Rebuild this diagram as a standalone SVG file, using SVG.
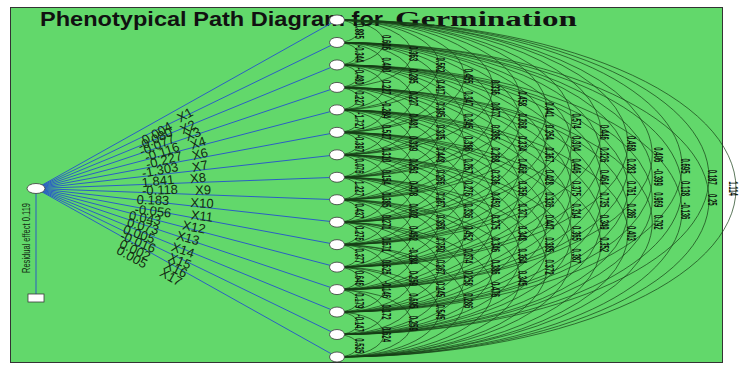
<svg xmlns="http://www.w3.org/2000/svg" width="740" height="366" viewBox="0 0 740 366">
<style>
.arc{fill:none;stroke:#163e16;stroke-width:0.7}
.ln{stroke:#2b5fc4;stroke-width:1;fill:none}
.nd{fill:#fff;stroke:#3a3a3a;stroke-width:0.8}
.cv{font-family:"Liberation Sans",Arial,sans-serif;font-size:12px;font-weight:bold;fill:#0c160c;text-anchor:middle;dominant-baseline:central}
.pl{font-family:"Liberation Sans",Arial,sans-serif;font-size:13px;fill:#122a12;text-anchor:middle;dominant-baseline:central}
</style>
<rect x="0" y="0" width="740" height="366" fill="#fff"/>
<rect x="10.5" y="7.5" width="712" height="355" fill="#62d86b" stroke="#333" stroke-width="1"/>
<text x="40" y="25.5" font-family="Liberation Sans,Arial,sans-serif" font-weight="bold" font-size="21" textLength="343" lengthAdjust="spacingAndGlyphs" fill="#111">Phenotypical Path Diagram for</text>
<text x="395" y="25.5" font-family="Liberation Serif,Times New Roman,serif" font-weight="bold" font-size="22" textLength="182" lengthAdjust="spacingAndGlyphs" fill="#111">Germination</text>
<g id="connectors">
<g id="paths">
<path class="ln" d="M36 188.5L337 20M36 188.5L337 42.47M36 188.5L337 64.93M36 188.5L337 87.4M36 188.5L337 109.86M36 188.5L337 132.33M36 188.5L337 154.8M36 188.5L337 177.26M36 188.5L337 199.73M36 188.5L337 222.19M36 188.5L337 244.66M36 188.5L337 267.13M36 188.5L337 289.59M36 188.5L337 312.06M36 188.5L337 334.52M36 188.5L337 357"/>
<path class="ln" d="M36 193V294"/>
</g>
<g id="arcs">
<path class="arc" d="M337 20a21 11.23 0 0 1 0 22.47a21 11.23 0 0 1 0 22.47a21 11.23 0 0 1 0 22.47a21 11.23 0 0 1 0 22.47a21 11.23 0 0 1 0 22.47a21 11.23 0 0 1 0 22.47a21 11.23 0 0 1 0 22.47a21 11.23 0 0 1 0 22.47a21 11.23 0 0 1 0 22.47a21 11.23 0 0 1 0 22.47a21 11.23 0 0 1 0 22.47a21 11.23 0 0 1 0 22.47a21 11.23 0 0 1 0 22.47a21 11.23 0 0 1 0 22.47a21 11.23 0 0 1 0 22.47"/>
<path class="arc" d="M337 20a48 22.47 0 0 1 0 44.93m0-22.47a48 22.47 0 0 1 0 44.93m0-22.47a48 22.47 0 0 1 0 44.93m0-22.47a48 22.47 0 0 1 0 44.93m0-22.47a48 22.47 0 0 1 0 44.93m0-22.47a48 22.47 0 0 1 0 44.93m0-22.47a48 22.47 0 0 1 0 44.93m0-22.47a48 22.47 0 0 1 0 44.93m0-22.47a48 22.47 0 0 1 0 44.93m0-22.47a48 22.47 0 0 1 0 44.93m0-22.47a48 22.47 0 0 1 0 44.93m0-22.47a48 22.47 0 0 1 0 44.93m0-22.47a48 22.47 0 0 1 0 44.93m0-22.47a48 22.47 0 0 1 0 44.93"/>
<path class="arc" d="M337 20a75 33.7 0 0 1 0 67.4m0-44.93a75 33.7 0 0 1 0 67.4m0-44.93a75 33.7 0 0 1 0 67.4m0-44.93a75 33.7 0 0 1 0 67.4m0-44.93a75 33.7 0 0 1 0 67.4m0-44.93a75 33.7 0 0 1 0 67.4m0-44.93a75 33.7 0 0 1 0 67.4m0-44.93a75 33.7 0 0 1 0 67.4m0-44.93a75 33.7 0 0 1 0 67.4m0-44.93a75 33.7 0 0 1 0 67.4m0-44.93a75 33.7 0 0 1 0 67.4m0-44.93a75 33.7 0 0 1 0 67.4m0-44.93a75 33.7 0 0 1 0 67.4"/>
<path class="arc" d="M337 20a102 44.93 0 0 1 0 89.86m0-67.4a102 44.93 0 0 1 0 89.86m0-67.4a102 44.93 0 0 1 0 89.86m0-67.4a102 44.93 0 0 1 0 89.86m0-67.4a102 44.93 0 0 1 0 89.86m0-67.4a102 44.93 0 0 1 0 89.86m0-67.4a102 44.93 0 0 1 0 89.86m0-67.4a102 44.93 0 0 1 0 89.86m0-67.4a102 44.93 0 0 1 0 89.86m0-67.4a102 44.93 0 0 1 0 89.86m0-67.4a102 44.93 0 0 1 0 89.86m0-67.4a102 44.93 0 0 1 0 89.86"/>
<path class="arc" d="M337 20a129 56.17 0 0 1 0 112.33m0-89.86a129 56.17 0 0 1 0 112.33m0-89.86a129 56.17 0 0 1 0 112.33m0-89.86a129 56.17 0 0 1 0 112.33m0-89.86a129 56.17 0 0 1 0 112.33m0-89.86a129 56.17 0 0 1 0 112.33m0-89.86a129 56.17 0 0 1 0 112.33m0-89.86a129 56.17 0 0 1 0 112.33m0-89.86a129 56.17 0 0 1 0 112.33m0-89.86a129 56.17 0 0 1 0 112.33m0-89.86a129 56.17 0 0 1 0 112.33"/>
<path class="arc" d="M337 20a156 67.4 0 0 1 0 134.8m0-112.33a156 67.4 0 0 1 0 134.8m0-112.33a156 67.4 0 0 1 0 134.8m0-112.33a156 67.4 0 0 1 0 134.8m0-112.33a156 67.4 0 0 1 0 134.8m0-112.33a156 67.4 0 0 1 0 134.8m0-112.33a156 67.4 0 0 1 0 134.8m0-112.33a156 67.4 0 0 1 0 134.8m0-112.33a156 67.4 0 0 1 0 134.8m0-112.33a156 67.4 0 0 1 0 134.8"/>
<path class="arc" d="M337 20a183 78.63 0 0 1 0 157.26m0-134.8a183 78.63 0 0 1 0 157.26m0-134.8a183 78.63 0 0 1 0 157.26m0-134.8a183 78.63 0 0 1 0 157.26m0-134.8a183 78.63 0 0 1 0 157.26m0-134.8a183 78.63 0 0 1 0 157.26m0-134.8a183 78.63 0 0 1 0 157.26m0-134.8a183 78.63 0 0 1 0 157.26m0-134.8a183 78.63 0 0 1 0 157.26"/>
<path class="arc" d="M337 20a210 89.86 0 0 1 0 179.73m0-157.26a210 89.86 0 0 1 0 179.73m0-157.26a210 89.86 0 0 1 0 179.73m0-157.26a210 89.86 0 0 1 0 179.73m0-157.26a210 89.86 0 0 1 0 179.73m0-157.26a210 89.86 0 0 1 0 179.73m0-157.26a210 89.86 0 0 1 0 179.73m0-157.26a210 89.86 0 0 1 0 179.73"/>
<path class="arc" d="M337 20a237 101.1 0 0 1 0 202.19m0-179.73a237 101.1 0 0 1 0 202.19m0-179.73a237 101.1 0 0 1 0 202.19m0-179.73a237 101.1 0 0 1 0 202.19m0-179.73a237 101.1 0 0 1 0 202.19m0-179.73a237 101.1 0 0 1 0 202.19m0-179.73a237 101.1 0 0 1 0 202.19"/>
<path class="arc" d="M337 20a264 112.33 0 0 1 0 224.66m0-202.19a264 112.33 0 0 1 0 224.66m0-202.19a264 112.33 0 0 1 0 224.66m0-202.19a264 112.33 0 0 1 0 224.66m0-202.19a264 112.33 0 0 1 0 224.66m0-202.19a264 112.33 0 0 1 0 224.66"/>
<path class="arc" d="M337 20a291 123.56 0 0 1 0 247.13m0-224.66a291 123.56 0 0 1 0 247.13m0-224.66a291 123.56 0 0 1 0 247.13m0-224.66a291 123.56 0 0 1 0 247.13m0-224.66a291 123.56 0 0 1 0 247.13"/>
<path class="arc" d="M337 20a318 134.8 0 0 1 0 269.59m0-247.13a318 134.8 0 0 1 0 269.59m0-247.13a318 134.8 0 0 1 0 269.59m0-247.13a318 134.8 0 0 1 0 269.59"/>
<path class="arc" d="M337 20a345 146.03 0 0 1 0 292.06m0-269.59a345 146.03 0 0 1 0 292.06m0-269.59a345 146.03 0 0 1 0 292.06"/>
<path class="arc" d="M337 20a372 157.26 0 0 1 0 314.52m0-292.06a372 157.26 0 0 1 0 314.52"/>
<path class="arc" d="M337 20a399 168.5 0 0 1 0 337"/>
</g>
</g>
<g id="corr-labels">
<g class="cv" transform="translate(359.2 31.23) rotate(90) scale(0.5 1)"><text x="0">0.895</text><text x="44.93">-0.344</text><text x="89.86">-0.480</text><text x="134.8">0.227</text><text x="179.73">-1.727</text><text x="224.66">-0.397</text><text x="269.59">0.076</text><text x="314.52">1.227</text><text x="359.46">0.437</text><text x="404.39">0.276</text><text x="449.32">0.377</text><text x="494.25">0.646</text><text x="539.18">0.179</text><text x="584.12">-0.147</text><text x="629.05">0.535</text></g>
<g class="cv" transform="translate(386.4 42.47) rotate(90) scale(0.5 1)"><text x="0">0.606</text><text x="44.93">0.400</text><text x="89.86">0.227</text><text x="134.8">-0.284</text><text x="179.73">0.527</text><text x="224.66">0.310</text><text x="269.59">0.154</text><text x="314.52">0.385</text><text x="359.46">0.271</text><text x="404.39">0.671</text><text x="449.32">0.625</text><text x="494.25">-0.146</text><text x="539.18">0.172</text><text x="584.12">0.624</text></g>
<g class="cv" transform="translate(413.6 53.7) rotate(90) scale(0.5 1)"><text x="0">0.363</text><text x="44.93">0.285</text><text x="89.86">0.227</text><text x="134.8">0.481</text><text x="179.73">0.339</text><text x="224.66">0.253</text><text x="269.59">0.478</text><text x="314.52">0.302</text><text x="359.46">0.462</text><text x="404.39">-0.184</text><text x="449.32">0.259</text><text x="494.25">0.695</text><text x="539.18">0.259</text></g>
<g class="cv" transform="translate(440.8 64.93) rotate(90) scale(0.5 1)"><text x="0">0.562</text><text x="44.93">0.417</text><text x="89.86">0.395</text><text x="134.8">0.335</text><text x="179.73">0.448</text><text x="224.66">0.256</text><text x="269.59">0.267</text><text x="314.52">0.358</text><text x="359.46">0.750</text><text x="404.39">0.267</text><text x="449.32">0.245</text><text x="494.25">0.545</text></g>
<g class="cv" transform="translate(468 76.17) rotate(90) scale(0.5 1)"><text x="0">0.455</text><text x="44.93">0.347</text><text x="89.86">0.345</text><text x="134.8">0.386</text><text x="179.73">0.267</text><text x="224.66">0.276</text><text x="269.59">0.336</text><text x="314.52">0.452</text><text x="359.46">0.374</text><text x="404.39">0.258</text><text x="449.32">0.286</text></g>
<g class="cv" transform="translate(495.2 87.4) rotate(90) scale(0.5 1)"><text x="0">0.336</text><text x="44.93">0.477</text><text x="89.86">0.385</text><text x="134.8">0.268</text><text x="179.73">0.336</text><text x="224.66">0.452</text><text x="269.59">0.375</text><text x="314.52">0.346</text><text x="359.46">0.386</text><text x="404.39">0.476</text></g>
<g class="cv" transform="translate(522.4 98.63) rotate(90) scale(0.5 1)"><text x="0">0.458</text><text x="44.93">0.368</text><text x="89.86">0.334</text><text x="134.8">0.466</text><text x="179.73">0.356</text><text x="224.66">0.371</text><text x="269.59">0.348</text><text x="314.52">0.364</text><text x="359.46">0.345</text></g>
<g class="cv" transform="translate(549.6 109.86) rotate(90) scale(0.5 1)"><text x="0">0.441</text><text x="44.93">0.354</text><text x="89.86">0.367</text><text x="134.8">0.428</text><text x="179.73">0.336</text><text x="224.66">0.447</text><text x="269.59">0.385</text><text x="314.52">0.372</text></g>
<g class="cv" transform="translate(576.8 121.1) rotate(90) scale(0.5 1)"><text x="0">0.574</text><text x="44.93">0.304</text><text x="89.86">0.446</text><text x="134.8">0.375</text><text x="179.73">0.314</text><text x="224.66">0.365</text><text x="269.59">0.387</text></g>
<g class="cv" transform="translate(604 132.33) rotate(90) scale(0.5 1)"><text x="0">0.446</text><text x="44.93">0.326</text><text x="89.86">0.464</text><text x="134.8">0.735</text><text x="179.73">0.349</text><text x="224.66">0.352</text></g>
<g class="cv" transform="translate(631.2 143.56) rotate(90) scale(0.5 1)"><text x="0">0.468</text><text x="44.93">0.283</text><text x="89.86">0.761</text><text x="134.8">0.286</text><text x="179.73">0.403</text></g>
<g class="cv" transform="translate(658.4 154.8) rotate(90) scale(0.5 1)"><text x="0">0.406</text><text x="44.93">-0.399</text><text x="89.86">0.969</text><text x="134.8">0.792</text></g>
<g class="cv" transform="translate(685.6 166.03) rotate(90) scale(0.5 1)"><text x="0">0.695</text><text x="44.93">0.138</text><text x="89.86">-0.136</text></g>
<g class="cv" transform="translate(712.8 177.26) rotate(90) scale(0.5 1)"><text x="0">0.187</text><text x="44.93">0.25</text></g>
<g class="cv" transform="translate(733 188.5) rotate(90) scale(0.5 1)"><text x="0">1.114</text></g>
</g>
<g id="path-labels" class="pl">
<text transform="translate(157 133) rotate(-29.24)">0.004</text>
<text transform="translate(155 139) rotate(-25.88)">-0.080</text>
<text transform="translate(157 145) rotate(-22.32)">-0.077</text>
<text transform="translate(162 152) rotate(-18.56)">-0.116</text>
<text transform="translate(164 160) rotate(-14.64)">-0.227</text>
<text transform="translate(160 170) rotate(-10.57)">-1.303</text>
<text transform="translate(158 181) rotate(-6.39)">1.841</text>
<text transform="translate(160 190) rotate(-2.14)">-0.118</text>
<text transform="translate(153 200) rotate(2.14)">0.183</text>
<text transform="translate(153 211) rotate(6.39)">-0.056</text>
<text transform="translate(145 218) rotate(10.57)">0.043</text>
<text transform="translate(143 226) rotate(14.64)">0.073</text>
<text transform="translate(139 234) rotate(18.56)">0.005</text>
<text transform="translate(138 242) rotate(22.32)">-0.016</text>
<text transform="translate(135 250) rotate(25.88)">0.002</text>
<text transform="translate(132 257) rotate(29.24)">0.005</text>
<text transform="translate(185 115) rotate(-29.24)">X1</text>
<text transform="translate(188 127) rotate(-25.88)">X2</text>
<text transform="translate(193 134) rotate(-22.32)">X3</text>
<text transform="translate(198 143) rotate(-18.56)">X4</text>
<text transform="translate(200 154) rotate(-14.64)">X6</text>
<text transform="translate(200 166) rotate(-10.57)">X7</text>
<text transform="translate(198 178) rotate(-6.39)">X8</text>
<text transform="translate(203 190) rotate(-2.14)">X9</text>
<text transform="translate(202 203) rotate(2.14)">X10</text>
<text transform="translate(202 216) rotate(6.39)">X11</text>
<text transform="translate(194 227) rotate(10.57)">X12</text>
<text transform="translate(188 238) rotate(14.64)">X13</text>
<text transform="translate(183 250) rotate(18.56)">X14</text>
<text transform="translate(180 261) rotate(22.32)">X15</text>
<text transform="translate(176 269) rotate(25.88)">X16</text>
<text transform="translate(171 277) rotate(29.24)">X17</text>
</g>
<g id="node-src"><ellipse class="nd" cx="36" cy="188.5" rx="9" ry="5"/></g>
<g id="node-res"><rect class="nd" x="28" y="294" width="16" height="8"/><text transform="translate(26 238) rotate(-90)" font-family="Liberation Sans,Arial,sans-serif" font-size="10" textLength="70" lengthAdjust="spacingAndGlyphs" text-anchor="middle" dominant-baseline="central" fill="#122a12">Residual effect  0.119</text></g>
<g id="node-x1"><ellipse class="nd" cx="337" cy="20" rx="7.5" ry="5"/></g>
<g id="node-x2"><ellipse class="nd" cx="337" cy="42.47" rx="7.5" ry="5"/></g>
<g id="node-x3"><ellipse class="nd" cx="337" cy="64.93" rx="7.5" ry="5"/></g>
<g id="node-x4"><ellipse class="nd" cx="337" cy="87.4" rx="7.5" ry="5"/></g>
<g id="node-x6"><ellipse class="nd" cx="337" cy="109.86" rx="7.5" ry="5"/></g>
<g id="node-x7"><ellipse class="nd" cx="337" cy="132.33" rx="7.5" ry="5"/></g>
<g id="node-x8"><ellipse class="nd" cx="337" cy="154.8" rx="7.5" ry="5"/></g>
<g id="node-x9"><ellipse class="nd" cx="337" cy="177.26" rx="7.5" ry="5"/></g>
<g id="node-x10"><ellipse class="nd" cx="337" cy="199.73" rx="7.5" ry="5"/></g>
<g id="node-x11"><ellipse class="nd" cx="337" cy="222.19" rx="7.5" ry="5"/></g>
<g id="node-x12"><ellipse class="nd" cx="337" cy="244.66" rx="7.5" ry="5"/></g>
<g id="node-x13"><ellipse class="nd" cx="337" cy="267.13" rx="7.5" ry="5"/></g>
<g id="node-x14"><ellipse class="nd" cx="337" cy="289.59" rx="7.5" ry="5"/></g>
<g id="node-x15"><ellipse class="nd" cx="337" cy="312.06" rx="7.5" ry="5"/></g>
<g id="node-x16"><ellipse class="nd" cx="337" cy="334.52" rx="7.5" ry="5"/></g>
<g id="node-x17"><ellipse class="nd" cx="337" cy="357" rx="7.5" ry="5"/></g>
</svg>
